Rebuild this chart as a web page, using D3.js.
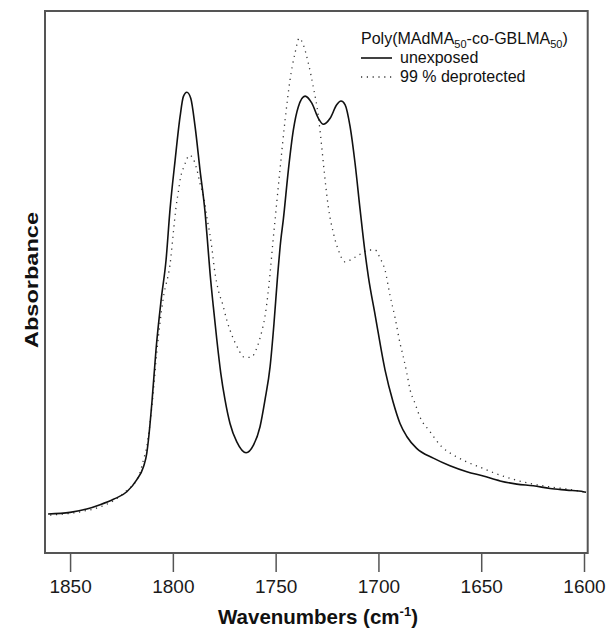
<!DOCTYPE html>
<html>
<head>
<meta charset="utf-8">
<script src="https://cdn.jsdelivr.net/npm/d3@7"></script>
<style>
  body { margin: 0; background: #fff; }
  svg text { font-family: Arial, "Liberation Sans", Helvetica, sans-serif; }
</style>
</head>
<body>
<svg width="606" height="632"></svg>
<script>
// IR spectrum, carbonyl region (absorbance in arbitrary units)
const unexposedWn = [1860.7, 1850.0, 1841.9, 1835.4, 1828.9, 1822.4, 1817.6, 1814.3, 1812.7, 1811.9,
  1810.1, 1808.2, 1805.7, 1803.3, 1801.4, 1798.9, 1796.5, 1794.9, 1793.2, 1791.3,
  1789.2, 1786.8, 1784.3, 1783.2, 1781.9, 1780.3, 1778.6, 1776.7, 1774.6, 1772.2,
  1768.9, 1764.4, 1760.8, 1757.6, 1755.2, 1752.7, 1750.8, 1749.2, 1747.5, 1746.3,
  1743.8, 1741.4, 1739.0, 1735.7, 1732.4, 1729.2, 1726.8, 1723.5, 1720.3, 1718.2,
  1716.2, 1713.8, 1711.4, 1708.9, 1706.5, 1704.9, 1701.6, 1696.8, 1692.9, 1689.5,
  1686.2, 1681.4, 1673.3, 1665.2, 1657.0, 1649.0, 1640.8, 1632.7, 1624.7, 1616.5,
  1608.4, 1600.3, 1599.0]
const unexposedAbs = [0.072, 0.075, 0.081, 0.089, 0.099, 0.113, 0.135, 0.159, 0.184, 0.208,
  0.282, 0.375, 0.467, 0.541, 0.633, 0.725, 0.805, 0.842, 0.850, 0.839,
  0.787, 0.707, 0.627, 0.577, 0.516, 0.454, 0.393, 0.332, 0.282, 0.239,
  0.205, 0.185, 0.199, 0.233, 0.282, 0.344, 0.424, 0.504, 0.577, 0.614,
  0.707, 0.780, 0.823, 0.843, 0.830, 0.802, 0.791, 0.802, 0.827, 0.834,
  0.827, 0.787, 0.720, 0.633, 0.554, 0.510, 0.439, 0.338, 0.279, 0.239,
  0.215, 0.193, 0.175, 0.161, 0.150, 0.142, 0.133, 0.127, 0.124, 0.119,
  0.116, 0.113, 0.112]

const deprotectedWn = [1859.7, 1845.1, 1835.4, 1829.1, 1821.6, 1818.4, 1816.0, 1814.3, 1812.7, 1809.9,
  1807.7, 1804.8, 1801.0, 1799.8, 1798.4, 1797.3, 1796.2, 1794.9, 1793.7, 1792.0,
  1789.5, 1787.9, 1786.8, 1784.7, 1783.5, 1782.2, 1781.1, 1779.5, 1777.9, 1775.7,
  1773.8, 1771.3, 1768.1, 1765.7, 1762.1, 1758.9, 1756.8, 1755.2, 1753.8, 1752.7,
  1751.4, 1750.3, 1747.9, 1745.4, 1743.0, 1740.6, 1738.5, 1736.5, 1734.1, 1731.7,
  1729.2, 1727.6, 1726.3, 1724.4, 1721.9, 1719.5, 1716.2, 1712.2, 1708.1, 1704.9,
  1701.6, 1699.2, 1696.8, 1694.4, 1691.9, 1689.5, 1687.9, 1686.2, 1684.6, 1682.2,
  1679.8, 1674.9, 1669.2, 1663.6, 1657.0, 1649.7, 1642.5, 1634.4, 1624.7, 1616.5,
  1608.4, 1600.3, 1599.0]
const deprotectedAbs = [0.070, 0.076, 0.085, 0.096, 0.118, 0.130, 0.148, 0.172, 0.196, 0.282,
  0.375, 0.467, 0.544, 0.590, 0.640, 0.667, 0.694, 0.710, 0.722, 0.734,
  0.722, 0.701, 0.682, 0.651, 0.620, 0.593, 0.565, 0.516, 0.485, 0.458,
  0.430, 0.402, 0.376, 0.362, 0.361, 0.381, 0.408, 0.436, 0.476, 0.516,
  0.571, 0.614, 0.707, 0.799, 0.873, 0.922, 0.950, 0.937, 0.904, 0.860,
  0.805, 0.750, 0.701, 0.639, 0.590, 0.559, 0.537, 0.544, 0.553, 0.559,
  0.559, 0.544, 0.522, 0.476, 0.434, 0.387, 0.362, 0.332, 0.301, 0.276,
  0.251, 0.224, 0.196, 0.181, 0.168, 0.157, 0.146, 0.136, 0.127, 0.122,
  0.118, 0.113, 0.112]

const xTicks = [1850, 1800, 1750, 1700, 1650, 1600]
const legendLabels = ["unexposed", "99 % deprotected"]

const svg = d3.select("svg")
const plotL = 45, plotR = 587.7, plotT = 11, plotB = 553
const dots = "1.2,4.6" // dotted pattern of the deprotected trace

const x = d3.scaleLinear().domain([1862.2, 1598.2]).range([plotL, plotR])
const y = d3.scaleLinear().domain([0, 1]).range([plotB, plotT])

const line = d3.line()
  .x(d => x(d.wn))
  .y(d => y(d.a))
  .curve(d3.curveMonotoneX)

const unexposed = unexposedWn.map((wn, i) => ({wn: wn, a: unexposedAbs[i]}))
const deprotected = deprotectedWn.map((wn, i) => ({wn: wn, a: deprotectedAbs[i]}))

// x axis (ticks hang below the frame)
const xAxis = svg.append("g")
  .attr("transform", `translate(0,${plotB})`)
  .call(d3.axisBottom(x).tickValues(xTicks).tickFormat(d3.format("d"))
    .tickSize(19).tickSizeOuter(0).tickPadding(8))
xAxis.select(".domain").remove()
xAxis.selectAll("line").attr("stroke", "#555").attr("stroke-width", 1.5)
xAxis.selectAll("text")
  .attr("fill", "#1a1a1a")
  .style("font-size", "19px")
  .style("font-family", "Arial, 'Liberation Sans', sans-serif")

// curves
svg.append("path")
  .attr("d", line(deprotected))
  .attr("fill", "none")
  .attr("stroke", "#333")
  .attr("stroke-width", 1.3)
  .attr("stroke-dasharray", dots)

svg.append("path")
  .attr("d", line(unexposed))
  .attr("fill", "none")
  .attr("stroke", "#111")
  .attr("stroke-width", 1.6)

// frame
svg.append("rect")
  .attr("x", plotL).attr("y", plotT)
  .attr("width", plotR - plotL).attr("height", plotB - plotT)
  .attr("fill", "none")
  .attr("stroke", "#555")
  .attr("stroke-width", 2)

// axis titles
const xt = svg.append("text")
  .attr("x", 318).attr("y", 624)
  .attr("text-anchor", "middle")
  .style("font-size", "20.5px")
  .style("font-weight", "bold")
  .attr("fill", "#111")
xt.append("tspan").text("Wavenumbers (cm")
xt.append("tspan").attr("dy", -8).style("font-size", "13px").text("-1")
xt.append("tspan").attr("dy", 8).text(")")

svg.append("text")
  .attr("transform", "translate(38,280) rotate(-90)")
  .attr("text-anchor", "middle")
  .attr("textLength", 136)
  .attr("lengthAdjust", "spacingAndGlyphs")
  .style("font-size", "19px")
  .style("font-weight", "bold")
  .attr("fill", "#111")
  .text("Absorbance")

// legend
const lg = svg.append("g")
const title = lg.append("text")
  .attr("x", 361).attr("y", 44)
  .style("font-size", "16px")
  .attr("fill", "#111")
title.append("tspan").text("Poly(MAdMA")
title.append("tspan").attr("dy", 4).style("font-size", "11px").text("50")
title.append("tspan").attr("dy", -4).text("-co-GBLMA")
title.append("tspan").attr("dy", 4).style("font-size", "11px").text("50")
title.append("tspan").attr("dy", -4).text(")")

legendLabels.forEach((lab, i) => {
  const ly = 58 + i * 19
  lg.append("line")
    .attr("x1", 361).attr("x2", 392)
    .attr("y1", ly).attr("y2", ly)
    .attr("stroke", i == 0 ? "#111" : "#333")
    .attr("stroke-width", i == 0 ? 1.6 : 1.3)
    .attr("stroke-dasharray", i == 0 ? null : dots)
  lg.append("text")
    .attr("x", 400).attr("y", ly + 5)
    .style("font-size", "16px")
    .attr("fill", "#111")
    .text(lab)
})
</script>
</body>
</html>
